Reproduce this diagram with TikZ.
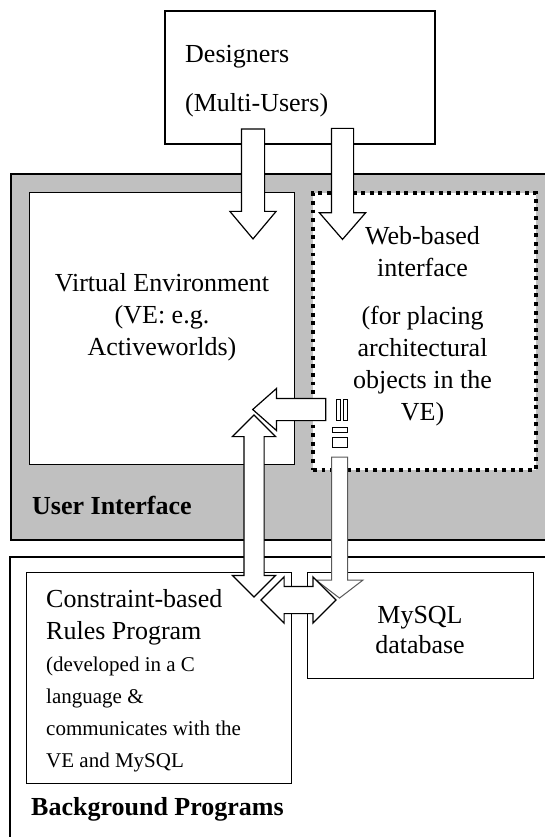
\documentclass[tikz,border=0pt]{standalone}
\usepackage{fontspec}
\setmainfont{Liberation Serif}
\usetikzlibrary{positioning, shapes.arrows}
\definecolor{uigray}{RGB}{192,192,192}
\newcommand{\smalltext}{\fontsize{21}{32}\selectfont}

\begin{document}
\begin{tikzpicture}[x=1pt, y=-1pt, inner sep=0pt, font=\fontsize{26}{32}\selectfont]
    % Styles
    \tikzstyle{box}=[draw=black, fill=white, line width=1.2pt, anchor=north west]
    \tikzstyle{dotbox}=[box, line width=3.9pt, dash pattern=on 3.9pt off 4.7pt]
    \tikzstyle{bigarrow}=[single arrow, draw=black, fill=white, line width=1.2pt, single arrow head indent=0pt, inner xsep=0pt]
    \tikzstyle{twoway}=[double arrow, draw=black, fill=white, line width=1.2pt, double arrow head indent=0pt, double arrow tip angle=90, inner xsep=0pt]
    \tikzstyle{stub}=[draw=black, fill=white, line width=1pt, anchor=north west]
    \tikzstyle{txt}=[anchor=base west, align=left]

    \useasboundingbox (0,0) rectangle (545,837);
    \clip (0,0) rectangle (545,837);

    % Boxes (Laatikot)
    \node[box, fill=uigray, line width=2pt, minimum width=550pt, minimum height=366pt] (ui) at (10,173) {};
    \node[box, line width=1.4pt, minimum width=265pt, minimum height=272pt] (ve) at (29,192) {};
    \node[dotbox, minimum width=223pt, minimum height=277pt] (web) at (311,191) {};
    \node[box, line width=2pt, minimum width=560pt, minimum height=300pt] (bg) at (9,556) {};
    \node[box, minimum width=265pt, minimum height=211pt] (rules) at (26,572) {};
    \node[box, minimum width=226pt, minimum height=106pt] (db) at (307,572) {};
    \node[box, line width=2.2pt, minimum width=270pt, minimum height=133pt] (designers) at (164,10) {};

    % Block arrows (Nuolet)
    \node[bigarrow, rotate=-90, inner ysep=11pt, minimum height=110pt, single arrow head extend=11.5pt, single arrow tip angle=80] (toVE) at (253,177) {};
    \node[bigarrow, rotate=-90, inner ysep=10.5pt, minimum height=111pt, single arrow head extend=12pt, single arrow tip angle=82] (toWeb) at (342.5,177.5) {};
    \node[bigarrow, draw=black!65, line width=1pt, rotate=-90, inner ysep=7.5pt, minimum height=141pt, single arrow head extend=15.5pt, single arrow tip angle=105] (webDb) at (339.5,524.5) {};
    \node[twoway, rotate=90, inner ysep=9.5pt, minimum height=182pt, double arrow head extend=11.5pt] (veRules) at (254,506) {};
    \node[twoway, inner ysep=13pt, minimum height=75pt, double arrow head extend=9.5pt] (rulesDb) at (298.5,600) {};
    \node[bigarrow, rotate=180, inner ysep=10.5pt, minimum height=73pt, single arrow head extend=10pt, single arrow tip angle=83] (webVE) at (295.5,409.5) {};

    % Arrow stubs
    \node[stub, minimum width=4pt, minimum height=21pt] (stubA) at (336,399) {};
    \node[stub, minimum width=4pt, minimum height=21pt] (stubB) at (343,399) {};
    \node[stub, minimum width=15pt, minimum height=5pt] (stubC) at (332,427) {};
    \node[stub, minimum width=15pt, minimum height=10pt] (stubD) at (332,437) {};

    % Texts (Tekstit)
    \node[txt] (designersText) at (185,112) {Designers\\[17pt](Multi-Users)};
    \node[txt, anchor=base, align=center] (veText) at (162,355) {Virtual Environment\\(VE: e.g.\\Activeworlds)};
    \node[txt, anchor=base, align=center] (webText) at (422.5,420) {Web-based\\interface\\[16pt](for placing\\architectural\\objects in the\\VE)};
    \node[txt] (rulesText) at (46,767) {Constraint-based\\Rules Program\\{\smalltext (developed in a C}\\{\smalltext language \&}\\{\smalltext communicates with the}\\{\smalltext VE and MySQL}};
    \node[txt, anchor=base, align=center] (dbText) at (420,653) {MySQL\\[-2pt]database};
    \node[txt, font=\fontsize{26}{32}\selectfont\bfseries] (uiText) at (32,514) {User Interface};
    \node[txt, font=\fontsize{26}{32}\selectfont\bfseries] (bgText) at (31,815) {Background Programs};
\end{tikzpicture}
\end{document}
